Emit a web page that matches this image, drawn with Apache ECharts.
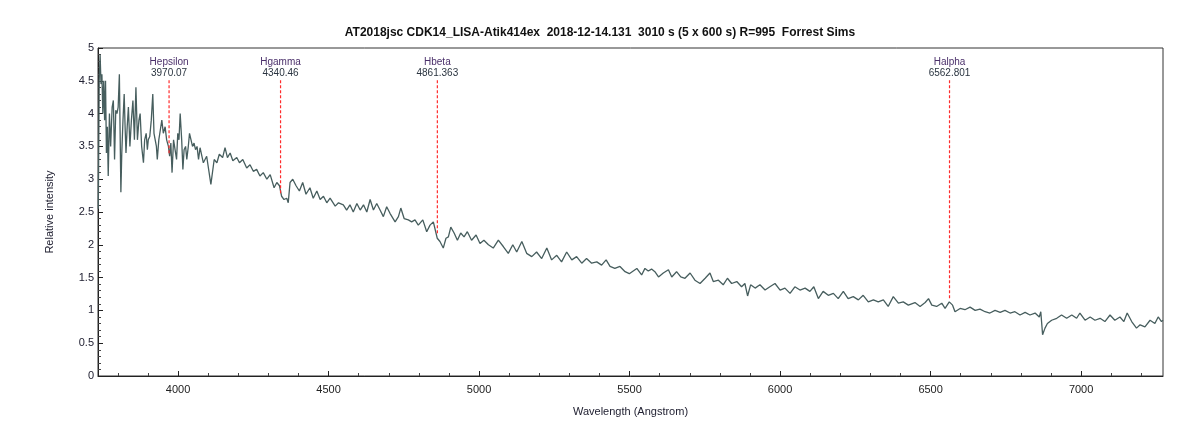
<!DOCTYPE html>
<html>
<head>
<meta charset="utf-8">
<script src="https://cdn.jsdelivr.net/npm/echarts@6/dist/echarts.min.js"></script>
<style>
html,body{margin:0;padding:0;background:#fff;}
#chart{width:1200px;height:429px;}
</style>
</head>
<body>
<div id="chart"></div>
<script>
// ---- data ----
const titleText = 'AT2018jsc CDK14_LISA-Atik414ex  2018-12-14.131  3010 s (5 x 600 s) R=995  Forrest Sims';
const xName = 'Wavelength (Angstrom)';
const yName = 'Relative intensity';
const xRange = [3734, 7272];
const yRange = [0, 5];
const xMajorTicks = [4000, 4500, 5000, 5500, 6000, 6500, 7000];
const xMinorTicks = [3800, 3900, 4100, 4200, 4300, 4400, 4600, 4700, 4800, 4900, 5100, 5200, 5300, 5400,
  5600, 5700, 5800, 5900, 6100, 6200, 6300, 6400, 6600, 6700, 6800, 6900, 7100, 7200];

// [wavelength (A), relative intensity]
const spectrum = [
[3735,2.55],[3738,4.5],[3741,4.9],[3744,4.45],[3747,4.6],[3750,4.0],[3753,4.5],[3756,3.9],[3759,4.5],[3762,3.4],
[3765,3.8],[3768,3.05],[3772,4.0],[3776,3.5],[3781,4.1],[3785,4.2],[3789,3.3],[3793,4.05],[3797,4.0],[3801,4.1],
[3805,4.6],[3810,2.8],[3813,3.4],[3817,3.9],[3821,4.3],[3824,3.8],[3827,3.4],[3831,3.8],[3835,4.1],[3840,3.5],
[3845,3.9],[3850,4.2],[3855,3.6],[3860,4.4],[3865,3.6],[3870,3.9],[3874,4.0],[3879,3.5],[3885,3.25],[3889,3.6],
[3894,3.7],[3898,3.45],[3901,3.6],[3906,3.65],[3911,3.9],[3916,4.3],[3920,3.7],[3924,3.7],[3928,3.5],[3931,3.3],
[3936,3.6],[3941,3.75],[3946,3.9],[3951,3.7],[3957,3.8],[3962,3.6],[3968,3.5],[3972,3.35],[3976,3.55],[3980,3.1],
[3985,3.6],[3990,3.45],[3995,3.3],[3999,3.7],[4003,3.6],[4007,4.0],[4012,3.6],[4016,3.15],[4020,3.45],[4025,3.5],
[4029,3.3],[4034,3.5],[4038,3.7],[4043,3.6],[4048,3.5],[4053,3.55],[4058,3.45],[4063,3.5],[4068,3.3],
[4073,3.48],[4084,3.25],[4095,3.35],[4109,2.92],[4120,3.3],[4129,3.25],[4137,3.38],[4148,3.33],[4156,3.48],[4164,3.33],
[4173,3.4],[4182,3.28],[4195,3.33],[4204,3.25],[4215,3.3],[4228,3.17],[4239,3.22],[4250,3.12],[4261,3.15],[4272,3.05],
[4283,3.1],[4295,3.0],[4306,3.07],[4319,2.87],[4328,2.95],[4337,2.9],[4344,2.74],[4352,2.69],[4361,2.71],[4366,2.64],
[4372,2.95],[4381,3.0],[4392,2.9],[4403,2.82],[4414,2.95],[4425,2.77],[4438,2.87],[4449,2.71],[4461,2.82],[4472,2.69],
[4483,2.74],[4494,2.64],[4505,2.71],[4522,2.59],[4533,2.64],
[4549,2.61],[4560,2.53],[4571,2.61],[4582,2.5],[4594,2.63],[4605,2.53],[4616,2.61],[4627,2.5],[4638,2.69],[4649,2.53],
[4660,2.63],[4671,2.53],[4682,2.43],[4693,2.58],[4704,2.48],[4721,2.35],[4732,2.43],[4740,2.56],[4751,2.4],[4765,2.38],
[4776,2.35],[4787,2.38],[4798,2.3],[4813,2.38],[4826,2.2],[4837,2.3],[4848,2.35],[4854,2.33],[4861,2.1],[4870,2.05],
[4881,1.95],[4890,2.1],[4898,2.12],[4906,2.27],[4917,2.18],[4928,2.07],[4939,2.18],[4950,2.12],[4961,2.2],[4975,2.07],
[4990,2.15],[5003,2.02],[5016,2.07],[5031,2.0],[5047,1.95],[5064,2.07],[5081,1.97],[5097,1.87],[5112,2.0],[5125,1.89],
[5142,2.05],[5158,1.87],[5175,1.82],[5191,1.89],[5208,1.79],[5225,1.95],[5241,1.77],[5258,1.84],[5274,1.74],[5291,1.89],
[5308,1.77],[5324,1.82],[5341,1.72],[5357,1.79],[5374,1.72],[5391,1.74],[5407,1.69],[5422,1.77],[5435,1.67],[5451,1.64],
[5468,1.67],[5485,1.59],[5499,1.56],
[5524,1.64],[5540,1.54],[5551,1.64],[5562,1.6],[5573,1.63],[5584,1.59],[5596,1.51],[5612,1.57],[5629,1.62],[5640,1.51],
[5656,1.59],[5670,1.51],[5684,1.49],[5701,1.57],[5717,1.46],[5734,1.41],[5751,1.49],[5767,1.57],[5778,1.44],[5795,1.46],
[5811,1.39],[5825,1.49],[5839,1.41],[5856,1.44],[5872,1.36],[5883,1.41],[5892,1.22],[5902,1.39],[5917,1.34],[5933,1.39],
[5950,1.31],[5966,1.36],[5983,1.41],[6000,1.31],[6016,1.34],[6033,1.26],[6049,1.36],[6066,1.31],[6083,1.34],[6099,1.29],
[6112,1.36],[6127,1.18],[6143,1.29],[6160,1.23],[6177,1.26],[6193,1.18],[6210,1.29],[6226,1.18],[6243,1.21],[6260,1.16],
[6276,1.23],[6293,1.13],[6310,1.16],[6326,1.13],[6343,1.16],[6359,1.06],[6376,1.21],[6393,1.11],[6409,1.13],[6426,1.08],
[6432,1.11],[6448,1.12],[6465,1.06],[6482,1.12],[6493,1.18],[6504,1.08],[6520,1.06],[6537,1.11],[6548,1.03],[6562,1.13],
[6573,1.08],[6581,0.98],[6598,1.03],[6614,1.01],[6631,1.05],[6648,1.0],[6664,1.02],[6681,0.98],[6697,0.96],[6714,1.0],
[6731,0.97],[6747,1.0],[6764,0.96],[6780,0.98],[6797,0.93],[6814,0.97],[6830,0.93],[6847,0.96],[6861,0.9],[6866,0.98],
[6872,0.63],[6880,0.73],[6888,0.8],[6902,0.85],[6919,0.88],[6935,0.93],[6952,0.88],[6969,0.93],[6985,0.88],[6996,0.96],
[7013,0.85],[7030,0.9],[7046,0.85],[7063,0.88],[7079,0.83],[7096,0.93],[7112,0.85],[7129,0.9],[7142,0.83],[7153,0.96],
[7168,0.83],[7184,0.73],[7196,0.78],[7212,0.75],[7229,0.85],[7245,0.8],[7256,0.9],[7267,0.83],[7272,0.85]
];

// identified lines
const lineNames = ['Hepsilon', 'Hgamma', 'Hbeta', 'Halpha'];
const lineLabels = ['3970.07', '4340.46', '4861.363', '6562.801'];
const lineWavelengths = [3970.07, 4340.46, 4861.363, 6562.801];
const lineEnds = [3.38, 2.77, 2.17, 1.18];
const lineTop = 4.51;

// ---- chart ----
const chart = echarts.init(document.getElementById('chart'), null, {renderer: 'canvas'});
const font = 'Liberation Sans, Arial, sans-serif';
const red = '#ff2a2a';

const baseX = {
  type: 'value', min: xRange[0], max: xRange[1], position: 'bottom',
  splitLine: {show: false}
};

// one dashed series per identified line, label on its top point
const markerSeries = lineNames.map((n, i) => ({
  type: 'line', xAxisIndex: 0, silent: true,
  data: [[lineWavelengths[i], lineTop], [lineWavelengths[i], lineEnds[i]]],
  symbol: 'none', showSymbol: false,
  lineStyle: {color: red, type: [3, 2], width: 1.2},
  label: {show: false},
  markPoint: {
    silent: true, symbol: 'circle', symbolSize: 0,
    data: [{coord: [lineWavelengths[i], lineTop]}],
    label: {
      show: true, position: 'top', distance: 1,
      formatter: '{n|' + n + '}\n{v|' + lineLabels[i] + '}',
      rich: {
        n: {fontFamily: font, fontSize: 10, color: '#4a2f6a', lineHeight: 11, align: 'center'},
        v: {fontFamily: font, fontSize: 10, color: '#2a3440', lineHeight: 11, align: 'center'}
      }
    }
  },
  z: 3
}));

chart.setOption({
  animation: false,
  backgroundColor: '#fff',
  title: {
    text: titleText, left: 'center', top: 22,
    textStyle: {fontFamily: font, fontSize: 12, fontWeight: 'bold', color: '#111'}
  },
  grid: {left: 98, right: 37, top: 48, bottom: 53, show: true, borderColor: '#333', borderWidth: 1, backgroundColor: 'transparent'},
  xAxis: [
    Object.assign({}, baseX, {
      name: xName, nameLocation: 'middle', nameGap: 30,
      nameTextStyle: {fontFamily: font, fontSize: 11, color: '#223'},
      axisLine: {show: true, lineStyle: {color: '#222', width: 1}},
      axisTick: {show: true, inside: true, length: 5, customValues: xMajorTicks, lineStyle: {color: '#222'}},
      axisLabel: {fontFamily: font, fontSize: 11, color: '#222', margin: 8, customValues: xMajorTicks,
        formatter: v => String(v)}
    }),
    Object.assign({}, baseX, {
      axisLine: {show: false},
      axisTick: {show: true, inside: true, length: 3, customValues: xMinorTicks, lineStyle: {color: '#444'}},
      axisLabel: {show: false}
    })
  ],
  yAxis: {
    type: 'value', min: yRange[0], max: yRange[1], interval: 0.5,
    name: yName, nameLocation: 'middle', nameGap: 43,
    nameTextStyle: {fontFamily: font, fontSize: 11, color: '#223'},
    axisLine: {show: true, lineStyle: {color: '#222', width: 1}},
    axisTick: {show: true, inside: true, length: 5, lineStyle: {color: '#222'}},
    minorTick: {show: true, splitNumber: 5, length: 3, lineStyle: {color: '#444'}},
    axisLabel: {fontFamily: font, fontSize: 11, color: '#223', margin: 4},
    splitLine: {show: false}
  },
  series: [{
    type: 'line', data: spectrum, showSymbol: false, symbol: 'none', xAxisIndex: 0,
    lineStyle: {color: '#475e5e', width: 1.3},
    clip: true, z: 2
  }].concat(markerSeries)
});
</script>
</body>
</html>
